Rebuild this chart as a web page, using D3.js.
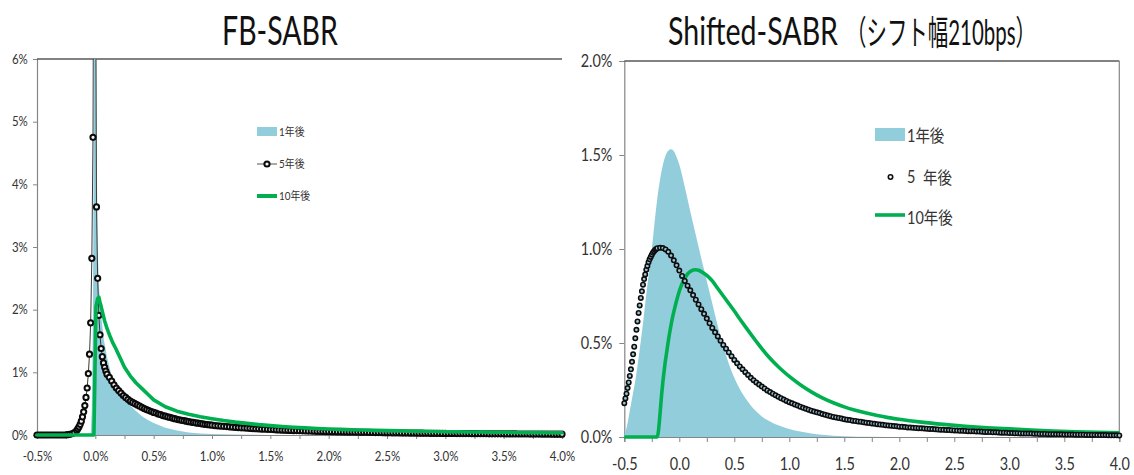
<!DOCTYPE html>
<html><head><meta charset="utf-8">
<script src="https://cdn.jsdelivr.net/npm/d3@7"></script>
<style>body{margin:0;background:#fff}svg{display:block}</style>
</head><body>
<svg id="c" width="1134" height="475"></svg>
<script>
// ================= DATA =================
// shared x ticks
const xTickValues = [-0.5,-0.25,0,0.25,0.5,0.75,1,1.25,1.5,1.75,2,2.25,2.5,2.75,3,3.25,3.5,3.75,4];
const xLabelValues = [-0.5,0,0.5,1,1.5,2,2.5,3,3.5,4];
const xTickLabelsFB = ["-0.5%","0.0%","0.5%","1.0%","1.5%","2.0%","2.5%","3.0%","3.5%","4.0%"];
const xTickLabelsSh = ["-0.5","0.0","0.5","1.0","1.5","2.0","2.5","3.0","3.5","4.0"];
const yTicksFB = [0,1,2,3,4,5,6];
const yTickLabelsFB = ["0%","1%","2%","3%","4%","5%","6%"];
const yTicksSh = [0,0.5,1,1.5,2];
const yTickLabelsSh = ["0.0%","0.5%","1.0%","1.5%","2.0%"];
const seriesNames = ["1年後","5年後","10年後"];
const titles = ["FB-SABR","Shifted-SABR","（シフト幅210bps）"];

// ---- FB-SABR (left) ----
const fb1X = [-0.5,-0.04,-0.03,-0.02,-0.01,0,0.01,0.02,0.03,0.04,0.05,0.075,0.1,0.125,0.15,0.2,0.25,0.3,0.35,0.4,0.45,0.5,0.6,0.7,0.8,0.9,1.0,1.2,1.5,2.0,4.0];
const fb1Y = [0,0,0.4,2.0,6.5,10,5,3.0,2.4,2.1,1.9,1.5,1.25,1.05,0.88,0.7,0.58,0.47,0.38,0.3,0.24,0.19,0.115,0.07,0.04,0.025,0.015,0.006,0.002,0,0];

const fb5X = [].concat(
  d3.range(-50,-15,2), d3.range(-15,-2,1), d3.range(-2,11,1), d3.range(12,101,2)
).map(v => v/100).concat(d3.range(41,161,1).map(v => v/40));
const fb5Y = [
  0,0,0,0,0,0,0,0,0,0,0,0,0,0.005,0.01,0.02,0.04,0.07,
  0.1,0.13,0.17,0.22,0.29,0.37,0.47,0.6,0.75,0.98,1.29,1.79,2.82,
  4.75,11,9,3.64,2.5,1.91,1.6,1.38,1.25,1.15,1.08,1.02,0.97,
  0.92,0.86,0.8,0.75,0.71,0.67,0.63,0.6,0.57,0.54,
  0.52,0.5,0.48,0.46,0.44, 0.42,0.405,0.39,0.375,0.36, 0.35,0.335,0.325,0.31,0.3,
  0.29,0.28,0.27,0.26,0.25, 0.243,0.235,0.228,0.22,0.213, 0.207,0.2,0.194,0.188,0.182,
  0.177,0.171,0.166,0.161,0.156,
  0.151,0.147,0.143,0.138,0.134,0.130,0.126,0.122,0.119,0.115,
  0.112,0.109,0.106,0.103,0.100,0.098,0.095,0.093,0.090,0.088,
  0.086,0.083,0.081,0.079,0.077,0.075,0.073,0.071,0.070,0.068,
  0.066,0.065,0.063,0.062,0.060,0.059,0.058,0.056,0.055,0.054,
  0.053,0.052,0.051,0.050,0.049,0.048,0.047,0.046,0.045,0.044,
  0.043,0.042,0.042,0.041,0.040,0.039,0.038,0.038,0.037,0.036,
  0.036,0.035,0.034,0.034,0.033,0.032,0.032,0.031,0.031,0.030,
  0.029,0.029,0.028,0.028,0.027,0.027,0.026,0.026,0.025,0.025,
  0.024,0.024,0.024,0.023,0.023,0.022,0.022,0.022,0.021,0.021,
  0.021,0.020,0.020,0.020,0.019,0.019,0.019,0.018,0.018,0.018,
  0.017,0.017,0.017,0.017,0.016,0.016,0.016,0.016,0.015,0.015,
  0.015,0.015,0.014,0.014,0.014,0.014,0.013,0.013,0.013,0.013
];

const fb10X = [-0.5,-0.012,-0.005,0.005,0.02,0.03,0.04,0.05,0.06,0.08,0.1,0.125,0.15,0.175,0.2,0.25,0.3,0.35,0.4,0.45,0.5,0.6,0.7,0.8,0.9,1.0]
  .concat(d3.range(11,41,1).map(v => v/10));
const fb10Y = [0,0,0.8,2.05,2.18,2.2,2.12,2.05,1.97,1.82,1.7,1.58,1.47,1.38,1.28,1.08,0.94,0.83,0.74,0.65,0.56,0.45,0.38,0.33,0.29,0.26,
  0.23,0.205,0.185,0.165,0.15,0.135,0.123,0.113,0.104,0.096,0.09,0.084,0.079,0.074,0.07,0.066,0.062,0.059,0.056,0.053,
  0.051,0.049,0.047,0.045,0.043,0.041,0.04,0.038,0.037,0.036];

// ---- Shifted-SABR (right) ----
const sh1X = [-0.5,-0.475,-0.45,-0.425,-0.4,-0.375,-0.35,-0.325,-0.3,-0.275,-0.25,-0.225,-0.2,-0.175,-0.15,-0.125,-0.1,-0.075,-0.05,-0.025,0,
  0.05,0.1,0.15,0.2,0.25,0.3,0.35,0.4,0.45,0.5,0.55,0.6,0.65,0.7,0.75,0.8,0.85,0.9,0.95,1.0,1.1,1.2,1.3,1.4,1.5,1.75,2.0,4.0];
const sh1Y = [0.01,0.06,0.14,0.22,0.3,0.4,0.51,0.63,0.76,0.88,1.0,1.14,1.27,1.37,1.445,1.497,1.523,1.53,1.52,1.49,1.45,
  1.33,1.2,1.075,0.95,0.83,0.71,0.59,0.485,0.39,0.315,0.255,0.207,0.168,0.135,0.109,0.09,0.075,0.063,0.052,0.043,
  0.029,0.019,0.012,0.007,0.004,0.001,0,0];

const sh5X = d3.range(-50,-19,1).map(v => v/100).concat(d3.range(-7,161,1).map(v => v/40));
const sh5Y = [
  0.18,0.205,0.23,0.26,0.29,0.325,0.36,0.40,0.44,0.48,0.525,0.57,0.615,0.66,0.70,0.74,0.775,0.81,0.84,0.865,0.89,0.91,0.93,0.945,0.958,0.97,0.98,0.988,0.995,1.0,1.004,
  1.006,1.005,0.998,0.985,0.965,0.94,0.913,
  0.885,0.857,0.83,0.805,0.78,0.755,0.73,0.705,0.68,0.655,0.63,0.605,0.58,0.557,0.535,0.512,0.49,0.47,0.45,0.43,0.41,
  0.392,0.375,0.36,0.345,0.33,0.315,0.302,0.29,0.279,0.268,0.258,0.248,0.239,0.23,0.222,0.214,0.206,0.199,0.192,0.185,
  0.179,0.173,0.167,0.161,0.155,0.150,0.145,0.140,0.135,0.131,
  0.127,0.122,0.118,0.114,0.111,0.107,0.104,0.101,0.098,0.095,
  0.092,0.090,0.087,0.085,0.083,0.081,0.078,0.076,0.074,0.072,
  0.070,0.068,0.066,0.065,0.063,0.061,0.060,0.058,0.057,0.055,
  0.054,0.053,0.051,0.050,0.049,0.048,0.047,0.046,0.045,0.044,
  0.043,0.042,0.041,0.040,0.039,0.038,0.037,0.037,0.036,0.035,
  0.034,0.033,0.033,0.032,0.031,0.031,0.030,0.029,0.029,0.028,
  0.027,0.027,0.026,0.025,0.025,0.024,0.023,0.023,0.022,0.021,
  0.021,0.020,0.020,0.019,0.019,0.018,0.018,0.018,0.017,0.017,
  0.016,0.016,0.016,0.015,0.015,0.015,0.014,0.014,0.014,0.013,
  0.013,0.013,0.013,0.012,0.012,0.012,0.012,0.011,0.011,0.011,
  0.011,0.010,0.010,0.010,0.010,0.009,0.009,0.009,0.009,0.008
];

const sh10X = [-0.5,-0.2,-0.19,-0.18,-0.17,-0.16,-0.15,-0.14,-0.13,-0.12,-0.11,-0.10,-0.08,-0.06,-0.04,-0.02,
  0,0.025,0.05,0.075,0.1,0.125,0.15,0.175,0.2,0.25,0.3,0.35,0.4,0.45,0.5,0.55,0.6,0.65,0.7,0.75,0.8,0.85,0.9,0.95,1.0,
  1.1,1.2,1.3,1.4,1.5,1.6,1.7,1.8,1.9,2.0,2.2,2.4,2.6,2.8,3.0,3.2,3.4,3.6,3.8,4.0];
const sh10Y = [0,0,0.03,0.09,0.16,0.23,0.29,0.34,0.39,0.43,0.47,0.51,0.58,0.64,0.69,0.735,
  0.775,0.815,0.845,0.867,0.88,0.888,0.89,0.887,0.88,0.86,0.83,0.79,0.75,0.71,0.67,0.628,0.587,0.547,0.508,0.47,0.435,0.403,0.374,0.347,0.322,
  0.278,0.24,0.208,0.182,0.16,0.142,0.127,0.114,0.103,0.094,0.079,0.067,0.057,0.049,0.043,0.037,0.032,0.028,0.025,0.022];

// ================= DRAW =================
const C_BLUE = "#92cddc", C_GREEN = "#00b050", C_AXIS = "#868686", C_FRAME = "#595959", C_TXT = "#333";
const LATIN = "Lato, 'Noto Sans CJK JP', sans-serif";
const svg = d3.select("#c");
const zip = (xs, ys) => xs.map((x, i) => [x, ys[i]]);

function txt(g, x, y, s, o = {}) {
  return g.append("text")
    .attr("transform", `translate(${x},${y}) scale(${o.sx || 1},1)`)
    .attr("text-anchor", o.anchor || "start")
    .attr("font-family", o.family || LATIN)
    .attr("font-size", o.size || 12)
    .attr("fill", o.fill || C_TXT)
    .text(s);
}
// text squeezed horizontally to a given width (the reference's lettering is narrow)
function fitText(g, x, y, s, width, o = {}) {
  const t = txt(g, 0, 0, s, o);
  const w = t.node().getComputedTextLength();
  t.attr("transform", `translate(${x},${y}) scale(${width / w},1)`);
  return t;
}

function panel(cfg) {
  const g = svg.append("g");
  const x = d3.scaleLinear().domain([-0.5, 4]).range([cfg.x0, cfg.x1]);
  const y = d3.scaleLinear().domain([0, cfg.ymax]).range([cfg.yb, cfg.yt]);
  const clipId = "clip" + cfg.id;
  svg.append("clipPath").attr("id", clipId).append("rect")
    .attr("x", cfg.x0 - 6).attr("y", cfg.yt).attr("width", cfg.x1 - cfg.x0 + 12).attr("height", cfg.yb - cfg.yt + 6);

  const xa = g.append("g").attr("transform", `translate(0,${cfg.yb})`)
    .call(d3.axisBottom(x).tickValues(xTickValues).tickSize(cfg.tick).tickPadding(cfg.xPad)
      .tickFormat(v => { const i = xLabelValues.findIndex(t => Math.abs(t - v) < 1e-9); return i >= 0 ? cfg.xLabels[i] : ""; }));
  const ya = g.append("g").attr("transform", `translate(${cfg.x0},0)`)
    .call(d3.axisLeft(y).tickValues(cfg.yTicks).tickSize(cfg.tick).tickPadding(cfg.yPad)
      .tickFormat((v, i) => cfg.yLabels[i]));
  [xa, ya].forEach(a => {
    a.select(".domain").attr("stroke", C_AXIS).attr("stroke-width", 1.2);
    a.selectAll(".tick line").attr("stroke", C_AXIS).attr("stroke-width", 1);
    a.selectAll(".tick text").attr("font-family", LATIN).attr("font-size", cfg.fs).attr("fill", C_TXT)
      .attr("transform", `scale(${cfg.sx},1)`);
  });
  g.append("line").attr("x1", cfg.x0).attr("x2", cfg.x1).attr("y1", cfg.yt).attr("y2", cfg.yt)
    .attr("stroke", C_FRAME).attr("stroke-width", 1.6);
  if (cfg.rightFrame) g.append("line").attr("x1", cfg.x1).attr("x2", cfg.x1).attr("y1", cfg.yt).attr("y2", cfg.yb)
    .attr("stroke", C_AXIS).attr("stroke-width", 1.2);

  const plot = g.append("g").attr("clip-path", `url(#${clipId})`);
  return { g, x, y, plot };
}

// ---------- left panel ----------
const L = panel({ id: "L", x0: 37, x1: 562, yb: 435, yt: 59, ymax: 6, tick: 4, xPad: 13, yPad: 6,
  xLabels: xTickLabelsFB, yTicks: yTicksFB, yLabels: yTickLabelsFB, fs: 12.5, sx: 0.92 });
{
  const { x, y, plot } = L;
  plot.append("path").datum(zip(fb1X, fb1Y))
    .attr("d", d3.area().x(d => x(d[0])).y0(y(0)).y1(d => y(d[1])))
    .attr("fill", C_BLUE);
  const d5 = zip(fb5X, fb5Y);
  plot.append("path").datum(d5)
    .attr("d", d3.line().x(d => x(d[0])).y(d => y(d[1])))
    .attr("fill", "none").attr("stroke", "#3a3a3a").attr("stroke-width", 1);
  plot.selectAll("circle.m5").data(d5).join("circle").attr("class", "m5")
    .attr("cx", d => x(d[0])).attr("cy", d => y(d[1])).attr("r", 2.6)
    .attr("fill", "#f4f4f4").attr("stroke", "#0a0a0a").attr("stroke-width", 2);
  plot.append("path").datum(zip(fb10X, fb10Y))
    .attr("d", d3.line().x(d => x(d[0])).y(d => y(d[1])))
    .attr("fill", "none").attr("stroke", C_GREEN).attr("stroke-width", 3.6)
    .attr("stroke-linejoin", "round").attr("stroke-linecap", "round");

  const lg = L.g.append("g");
  lg.append("rect").attr("x", 257).attr("y", 127).attr("width", 20).attr("height", 9).attr("fill", C_BLUE);
  txt(lg, 279, 135.5, seriesNames[0], { size: 11, sx: 0.9 });
  lg.append("line").attr("x1", 257).attr("x2", 277).attr("y1", 164).attr("y2", 164).attr("stroke", "#555").attr("stroke-width", 1);
  lg.append("circle").attr("cx", 267).attr("cy", 164).attr("r", 2.6).attr("fill", "#f4f4f4").attr("stroke", "#0a0a0a").attr("stroke-width", 2);
  txt(lg, 279, 168, seriesNames[1], { size: 11, sx: 0.9 });
  lg.append("line").attr("x1", 257).attr("x2", 277).attr("y1", 196).attr("y2", 196).attr("stroke", C_GREEN).attr("stroke-width", 4);
  txt(lg, 279, 200, seriesNames[2], { size: 11, sx: 0.9 });
}

// ---------- right panel ----------
const R = panel({ id: "R", x0: 624.3, x1: 1119.3, yb: 437, yt: 61, ymax: 2, tick: 5, xPad: 16, yPad: 9,
  xLabels: xTickLabelsSh, yTicks: yTicksSh, yLabels: yTickLabelsSh, fs: 17, sx: 0.85, rightFrame: true });
{
  const { x, y, plot } = R;
  plot.append("path").datum(zip(sh1X, sh1Y))
    .attr("d", d3.area().curve(d3.curveMonotoneX).x(d => x(d[0])).y0(y(0)).y1(d => y(d[1])))
    .attr("fill", C_BLUE);
  plot.append("path").datum(zip(sh10X, sh10Y))
    .attr("d", d3.line().curve(d3.curveMonotoneX).x(d => x(d[0])).y(d => y(d[1])))
    .attr("fill", "none").attr("stroke", C_GREEN).attr("stroke-width", 3.6)
    .attr("stroke-linejoin", "round");
  plot.selectAll("circle.s5").data(zip(sh5X, sh5Y)).join("circle").attr("class", "s5")
    .attr("cx", d => x(d[0])).attr("cy", d => y(d[1])).attr("r", 2.2)
    .attr("fill", "#9cc6d6").attr("stroke", "#0d0d0d").attr("stroke-width", 1.6);

  const lg = R.g.append("g");
  lg.append("rect").attr("x", 875).attr("y", 128).attr("width", 30).attr("height", 13).attr("fill", C_BLUE);
  txt(lg, 907, 141.5, seriesNames[0], { size: 17, sx: 0.85 });
  lg.append("circle").attr("cx", 890.5).attr("cy", 177).attr("r", 2.2).attr("fill", "#fff").attr("stroke", "#0d0d0d").attr("stroke-width", 1.6);
  txt(lg, 907, 183, "5", { size: 17, sx: 0.85 });
  txt(lg, 923, 184, "年後", { size: 17, sx: 0.85 });
  lg.append("line").attr("x1", 875).attr("x2", 905).attr("y1", 215).attr("y2", 215).attr("stroke", C_GREEN).attr("stroke-width", 3.6);
  txt(lg, 907, 224, seriesNames[2], { size: 17, sx: 0.85 });
}

// ---------- titles ----------
fitText(svg, 222, 45, titles[0], 116, { size: 40, fill: "#111" });
fitText(svg, 668, 45, titles[1], 170, { size: 38, fill: "#111" });
fitText(svg, 846, 45, titles[2], 190, { size: 34, fill: "#111" });
</script>
</body></html>
